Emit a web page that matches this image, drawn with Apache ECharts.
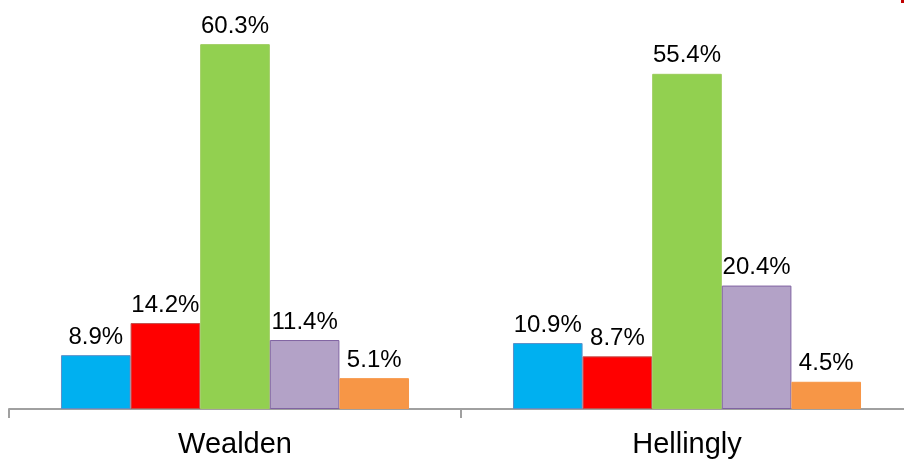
<!DOCTYPE html>
<html>
<head>
<meta charset="utf-8">
<script src="https://cdn.jsdelivr.net/npm/echarts@6/dist/echarts.min.js"></script>
<style>html,body{margin:0;padding:0;background:#fff;overflow:hidden;width:904px;height:461px;}#c{width:922px;height:461px;}</style>
</head>
<body>
<div id="c"></div>
<script>
const categories = ['Wealden', 'Hellingly'];
const seriesA = [8.9, 10.9];
const seriesB = [14.2, 8.7];
const seriesC = [60.3, 55.4];
const seriesD = [11.4, 20.4];
const seriesE = [5.1, 4.5];
const fills = ['#00B0F0', '#FF0000', '#92D050', '#B3A2C7', '#F79646'];
const borders = ['#5A8FC8', '#C0504D', '#9BCB5A', '#8064A2', '#F79646'];

const chart = echarts.init(document.getElementById('c'));
const allData = [seriesA, seriesB, seriesC, seriesD, seriesE];
chart.setOption({
  animation: false,
  backgroundColor: '#fff',
  grid: { left: 9, right: 9, top: 0, bottom: 52, containLabel: false },
  xAxis: {
    type: 'category',
    data: categories,
    axisLine: { lineStyle: { color: '#A0A0A0', width: 2 } },
    axisTick: { show: true, length: 9, lineStyle: { color: '#A0A0A0', width: 2 } },
    axisLabel: { color: '#000', fontSize: 29, fontFamily: 'Liberation Sans, Arial, sans-serif', margin: 21 }
  },
  yAxis: { type: 'value', min: 0, max: 67.6, show: false, splitLine: { show: false } },
  series: allData.map((d, i) => ({
    type: 'bar',
    data: d,
    barGap: '0%',
    barCategoryGap: '23%',
    itemStyle: { color: fills[i], borderColor: borders[i], borderWidth: 1 },
    label: {
      show: true, position: 'top', distance: 6,
      formatter: p => p.value.toFixed(1) + '%',
      color: '#000', fontSize: 24, fontFamily: 'Liberation Sans, Arial, sans-serif'
    }
  })),
  graphic: [{ type: 'rect', shape: { x: 901, y: 0, width: 3, height: 3 }, style: { fill: '#C00000' } }]
});
</script>
</body>
</html>
